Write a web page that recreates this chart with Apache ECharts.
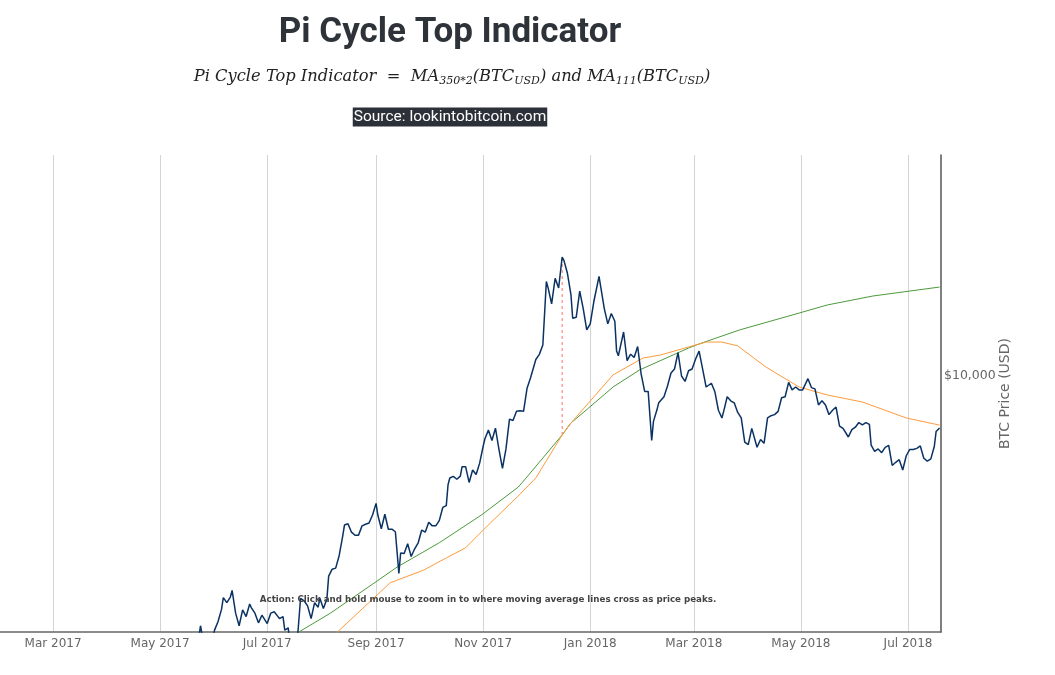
<!DOCTYPE html>
<html>
<head>
    <meta charset="UTF-8">
    <title>Pi Cycle Top Indicator</title>
    <script src="https://cdn.jsdelivr.net/npm/echarts@6/dist/echarts.min.js"></script>
    <style>
        *{margin:0;padding:0}
        html,body{width:100%;height:100%;background:#fff}
        #main{width:1055px;height:675px}
    </style>
</head>
<body>
<div id="main"></div>
<script type="text/javascript">
    // BTC price (daily close, sampled)
    var priceDates = [
        '2017-05-18','2017-05-20','2017-05-22','2017-05-24','2017-05-26','2017-05-28','2017-05-30',
        '2017-06-01','2017-06-03','2017-06-05','2017-06-06','2017-06-08','2017-06-10','2017-06-11','2017-06-13',
        '2017-06-15','2017-06-17','2017-06-19','2017-06-21','2017-06-22','2017-06-24','2017-06-26','2017-06-28',
        '2017-07-01','2017-07-03','2017-07-05','2017-07-08','2017-07-10','2017-07-11','2017-07-13','2017-07-15',
        '2017-07-16','2017-07-18','2017-07-20','2017-07-22','2017-07-24','2017-07-26','2017-07-28','2017-07-30',
        '2017-07-31','2017-08-02','2017-08-04','2017-08-05','2017-08-07','2017-08-09','2017-08-11','2017-08-13',
        '2017-08-14','2017-08-16','2017-08-18','2017-08-20','2017-08-22','2017-08-24','2017-08-26','2017-08-28',
        '2017-08-30','2017-09-01','2017-09-02','2017-09-04','2017-09-06','2017-09-08','2017-09-10','2017-09-12',
        '2017-09-14','2017-09-15','2017-09-17','2017-09-19','2017-09-21','2017-09-23','2017-09-25','2017-09-27',
        '2017-09-29','2017-10-01','2017-10-03','2017-10-05','2017-10-07','2017-10-09','2017-10-11','2017-10-12',
        '2017-10-13','2017-10-15','2017-10-17','2017-10-19','2017-10-20','2017-10-22','2017-10-24','2017-10-26',
        '2017-10-28','2017-10-30','2017-11-01','2017-11-02','2017-11-04','2017-11-06','2017-11-08','2017-11-10',
        '2017-11-12','2017-11-14','2017-11-16','2017-11-18','2017-11-20','2017-11-22','2017-11-24','2017-11-26',
        '2017-11-28','2017-12-01','2017-12-03','2017-12-05','2017-12-07','2017-12-08','2017-12-10','2017-12-12',
        '2017-12-14','2017-12-16','2017-12-17','2017-12-19','2017-12-21','2017-12-22','2017-12-24','2017-12-26',
        '2017-12-28','2017-12-30','2018-01-01','2018-01-03','2018-01-06','2018-01-07','2018-01-09','2018-01-11',
        '2018-01-13','2018-01-15','2018-01-16','2018-01-17','2018-01-20','2018-01-22','2018-01-24','2018-01-26',
        '2018-01-28','2018-01-30','2018-02-01','2018-02-03','2018-02-05','2018-02-06','2018-02-08','2018-02-09',
        '2018-02-12','2018-02-14','2018-02-16','2018-02-18','2018-02-20','2018-02-22','2018-02-24','2018-02-26',
        '2018-02-28','2018-03-02','2018-03-04','2018-03-05','2018-03-07','2018-03-08','2018-03-11','2018-03-13',
        '2018-03-15','2018-03-17','2018-03-18','2018-03-20','2018-03-22','2018-03-24','2018-03-26','2018-03-28',
        '2018-03-30','2018-04-01','2018-04-03','2018-04-06','2018-04-08','2018-04-10','2018-04-12','2018-04-14',
        '2018-04-16','2018-04-18','2018-04-20','2018-04-22','2018-04-24','2018-04-26','2018-04-28','2018-04-30',
        '2018-05-02','2018-05-05','2018-05-07','2018-05-09','2018-05-11','2018-05-13','2018-05-15','2018-05-17',
        '2018-05-19','2018-05-21','2018-05-23','2018-05-25','2018-05-28','2018-05-30','2018-06-01','2018-06-03',
        '2018-06-05','2018-06-07','2018-06-09','2018-06-10','2018-06-12','2018-06-14','2018-06-16','2018-06-18',
        '2018-06-20','2018-06-22','2018-06-24','2018-06-26','2018-06-28','2018-06-30','2018-07-02','2018-07-04',
        '2018-07-06','2018-07-08','2018-07-10','2018-07-12','2018-07-14','2018-07-16','2018-07-17','2018-07-18',
        '2018-07-19'
    ];
    var priceValues = [
        1880, 2040, 2150, 2460, 2200, 2180, 2200,
        2400, 2520, 2700, 2880, 2800, 2890, 3000, 2640,
        2460, 2690, 2590, 2780, 2720, 2640, 2500, 2610,
        2490, 2640, 2660, 2560, 2590, 2400, 2430, 1930,
        1930, 2230, 2870, 2830, 2750, 2560, 2800, 2730,
        2870, 2710, 2860, 3250, 3380, 3400, 3650, 4070,
        4330, 4360, 4160, 4090, 4090, 4310, 4350, 4380,
        4580, 4890, 4580, 4240, 4600, 4230, 4230, 4170,
        3300, 3700, 3690, 3900, 3630, 3790, 3920, 4210,
        4160, 4400, 4310, 4310, 4440, 4780, 4830, 5430,
        5640, 5690, 5600, 5700, 6010, 6010, 5500, 5900,
        5750, 6130, 6740, 7030, 7380, 6960, 7460, 6620,
        5950, 6640, 7850, 7790, 8200, 8230, 8200, 9330,
        9900, 10970, 11290, 11900, 17000, 16400, 15000, 17300,
        16400, 19500, 19140, 17800, 15800, 13830, 13900, 16100,
        14600, 12950, 13400, 15150, 17500, 16480, 14600, 13400,
        14200, 13600, 11500, 11200, 12800, 10900, 11300, 11100,
        11800, 10100, 9170, 9170, 6960, 7750, 8270, 8600,
        8900, 9450, 10170, 10400, 11400, 10000, 9700, 10300,
        10400, 11000, 11500, 11500, 9900, 9400, 9600, 9150,
        8250, 7900, 8200, 8900, 8700, 8600, 8150, 7900,
        6900, 6800, 7450, 6700, 7000, 6850, 7900, 8000,
        8050, 8200, 8850, 8900, 9650, 9250, 9400, 9250,
        9250, 9850, 9370, 9300, 8500, 8700, 8500, 8050,
        8250, 8400, 7550, 7450, 7100, 7400, 7500, 7700,
        7600, 7700, 7620, 6780, 6550, 6640, 6500, 6700,
        6770, 6050, 6160, 6250, 5900, 6390, 6620, 6620,
        6660, 6750, 6300, 6200, 6280, 6740, 7320, 7380,
        7470
    ];

    // 350 day moving average x 2
    var ma350x2Dates = [
        '2017-07-01','2017-07-19','2017-08-06','2017-09-01','2017-09-13','2017-10-07','2017-10-31',
        '2017-11-21','2017-11-25','2017-12-16','2017-12-21','2017-12-31','2018-01-14','2018-01-29',
        '2018-02-26','2018-03-04','2018-03-27','2018-04-30','2018-05-16','2018-06-11','2018-07-19'
    ];
    var ma350x2Values = [
        2150, 2375, 2640, 3150, 3420, 3920, 4580,
        5360, 5610, 7180, 7680, 8350, 9400, 10340,
        11700, 11970, 12950, 14240, 14900, 15670, 16480
    ];

    // 111 day moving average
    var ma111Dates = [
        '2017-07-31','2017-08-10','2017-09-09','2017-09-28','2017-10-11','2017-10-22','2017-11-01',
        '2017-11-21','2017-12-01','2017-12-16','2017-12-20','2017-12-31','2018-01-14','2018-01-31',
        '2018-02-10','2018-02-26','2018-03-08','2018-03-17','2018-03-26','2018-04-11','2018-04-30',
        '2018-05-16','2018-06-05','2018-06-30','2018-07-19'
    ];
    var ma111Values = [
        2160, 2375, 3130, 3360, 3600, 3810, 4210,
        5100, 5640, 7180, 7590, 8590, 10060, 11060,
        11250, 11770, 12100, 12100, 11840, 10520, 9400,
        8990, 8640, 7900, 7590
    ];

    // price peak down to the moving average cross
    var peakDates = ['2017-12-16', '2017-12-16'];
    var peakValues = [7180, 19500];

    var monthNames = ['Jan','Feb','Mar','Apr','May','Jun','Jul','Aug','Sep','Oct','Nov','Dec'];

    function zip(a, b) {
        return a.map(function (d, i) { return [d, b[i]]; });
    }

    var myChart = echarts.init(document.getElementById('main'));
    var DAY = 86400000;

    option = {
        animation: false,
        backgroundColor: '#fff',
        grid: { left: 0, right: 114, top: 155, bottom: 43 },
        graphic: [
            {
                type: 'text', x: 450, y: 33, z: 10,
                style: {
                    text: 'Pi Cycle Top Indicator',
                    font: 'bold 35px Roboto',
                    fill: '#2d3339',
                    align: 'center', verticalAlign: 'middle',
                    textAlign: 'center', textVerticalAlign: 'middle'
                }
            },
            {
                type: 'text', x: 452, y: 77, z: 10,
                style: {
                    text: 'Pi Cycle Top Indicator  =  MA{s|350*2}(BTC{s|USD}) and MA{s|111}(BTC{s|USD})',
                    fontFamily: 'DejaVu Serif',
                    fontStyle: 'italic',
                    fontSize: 16.3,
                    lineHeight: 20,
                    fill: '#222',
                    align: 'center', verticalAlign: 'middle',
                    textAlign: 'center', textVerticalAlign: 'middle',
                    rich: {
                        s: {
                            fontFamily: 'DejaVu Serif', fontStyle: 'italic', fontSize: 11,
                            lineHeight: 10, verticalAlign: 'bottom', fill: '#222'
                        }
                    }
                }
            },
            {
                type: 'text', x: 450, y: 117, z: 10,
                style: {
                    text: 'Source: lookintobitcoin.com',
                    font: '15.5px Roboto',
                    fill: '#ffffff',
                    backgroundColor: '#2c3038',
                    padding: [2, 1, 1, 1],
                    align: 'center', verticalAlign: 'middle',
                    textAlign: 'center', textVerticalAlign: 'middle'
                }
            },
            {
                type: 'text', x: 488, y: 600, z: 100,
                style: {
                    text: 'Action: Click and hold mouse to zoom in to where moving average lines cross as price peaks.',
                    font: 'bold 8.7px "DejaVu Sans"',
                    fill: '#444',
                    align: 'center', verticalAlign: 'middle',
                    textAlign: 'center', textVerticalAlign: 'middle'
                }
            }
        ],
        xAxis: {
            type: 'time',
            min: '2017-01-29 19:00',
            max: '2018-07-19 19:00',
            splitNumber: 7,
            minInterval: 62 * DAY,
            maxInterval: 75 * DAY,
            axisLine: { lineStyle: { color: '#666', width: 1.5 } },
            axisTick: { show: false },
            splitLine: { show: true, showMinLine: false, showMaxLine: false, lineStyle: { color: '#d4d4d4', width: 1 } },
            axisLabel: {
                color: '#666',
                fontFamily: 'DejaVu Sans',
                fontSize: 12,
                margin: 6,
                formatter: function (v) {
                    var d = new Date(v);
                    return monthNames[d.getMonth()] + ' ' + d.getFullYear();
                }
            }
        },
        yAxis: {
            type: 'log',
            logBase: 10,
            position: 'right',
            min: 2375,
            max: 34590,
            name: 'BTC Price (USD)',
            nameLocation: 'middle',
            nameGap: 57,
            nameMoveOverlap: false,
            nameTextStyle: { color: '#666', fontFamily: 'DejaVu Sans', fontSize: 14 },
            axisLine: { show: true, lineStyle: { color: '#555', width: 1.5 } },
            axisTick: { show: false },
            splitLine: { show: false },
            axisLabel: {
                color: '#666',
                fontFamily: 'DejaVu Sans',
                fontSize: 12.5,
                margin: 3,
                formatter: function (v) {
                    var l = Math.log(v) / Math.LN10;
                    if (Math.abs(l - Math.round(l)) > 1e-6) return '';
                    return '$' + Math.round(v).toLocaleString('en-US');
                }
            }
        },
        series: [
            {
                name: '350DMA x 2',
                type: 'line',
                data: zip(ma350x2Dates, ma350x2Values),
                showSymbol: false,
                lineStyle: { color: '#4c9a3c', width: 1 },
                z: 2
            },
            {
                name: '111DMA',
                type: 'line',
                data: zip(ma111Dates, ma111Values),
                showSymbol: false,
                lineStyle: { color: '#ff9a3c', width: 1 },
                z: 2
            },
            {
                name: 'BTC Price',
                type: 'line',
                data: zip(priceDates, priceValues),
                showSymbol: false,
                lineStyle: { color: '#0a3263', width: 1.5 },
                z: 3
            },
            {
                name: 'Peak',
                type: 'line',
                data: zip(peakDates, peakValues),
                showSymbol: false,
                lineStyle: { color: '#ff7070', width: 1, type: [3, 3] },
                z: 1
            }
        ]
    };
    myChart.setOption(option);
</script>
</body>
</html>
